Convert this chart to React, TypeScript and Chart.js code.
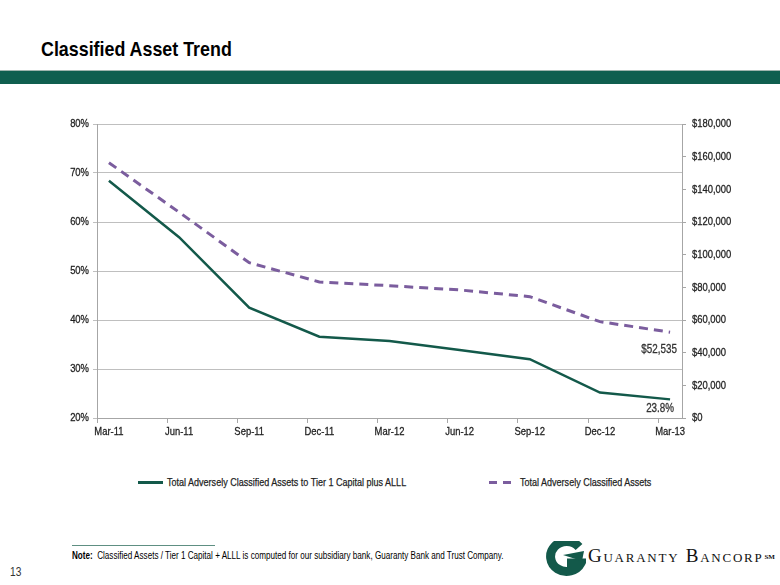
import React, { useEffect, useRef } from "react";
import { Chart, registerables } from "chart.js";

Chart.register(...registerables);

const quarters = ["Mar-11", "Jun-11", "Sep-11", "Dec-11", "Mar-12", "Jun-12", "Sep-12", "Dec-12", "Mar-13"];
const ratioPct = [68.4, 56.9, 42.5, 36.6, 35.7, 33.9, 32.0, 25.2, 23.8];
const classifiedAssets = [156300, 126000, 95100, 83300, 81000, 78400, 74300, 59000, 52535];
const leftTicks = [20, 30, 40, 50, 60, 70, 80];
const rightTicks = [0, 20000, 40000, 60000, 80000, 100000, 120000, 140000, 160000, 180000];

const SANS = '"Liberation Sans", Arial, sans-serif';
const GREEN = "#13594A";
const PURPLE = "#7B5D9E";
const TEXT = "#1F1F1F";
const SQUEEZE = 0.82;

const fmtPct = (v: number) => v + "%";
const fmtUsd = (v: number) => "$" + Number(v).toLocaleString("en-US");

function narrowText(ctx: CanvasRenderingContext2D, s: string, x: number, y: number) {
  ctx.save();
  ctx.translate(x, y);
  ctx.scale(SQUEEZE, 1);
  ctx.fillText(s, 0, 0);
  ctx.lineWidth = 0.3;
  ctx.strokeText(s, 0, 0);
  ctx.restore();
}

const narrowLabels = {
  id: "narrowLabels",
  afterDraw(chart: any) {
    const ctx: CanvasRenderingContext2D = chart.ctx;
    const area = chart.chartArea;
    const sx = chart.scales.x;
    const yl = chart.scales.yL;
    const yr = chart.scales.yR;
    ctx.save();
    ctx.font = `11.5px ${SANS}`;
    ctx.fillStyle = TEXT;
    ctx.strokeStyle = TEXT;
    ctx.textBaseline = "middle";
    ctx.textAlign = "center";
    quarters.forEach((q, i) => narrowText(ctx, q, sx.getPixelForValue(i), area.bottom + 14));
    ctx.textAlign = "right";
    leftTicks.forEach((v) => narrowText(ctx, fmtPct(v), area.left - 8, yl.getPixelForValue(v)));
    ctx.textAlign = "left";
    rightTicks.forEach((v) => narrowText(ctx, fmtUsd(v), area.right + 10, yr.getPixelForValue(v)));
    // end-point value labels
    const last = quarters.length - 1;
    const g = chart.getDatasetMeta(0).data[last];
    const p = chart.getDatasetMeta(1).data[last];
    ctx.font = `12px ${SANS}`;
    ctx.fillStyle = "#333333";
    ctx.strokeStyle = "#333333";
    ctx.textAlign = "center";
    narrowText(ctx, ratioPct[last].toFixed(1) + "%", g.x - 10, g.y + 9);
    narrowText(ctx, fmtUsd(classifiedAssets[last]), p.x - 11, p.y + 17);
    ctx.restore();
  },
};

const squeezeStyle = (s: number): React.CSSProperties => ({
  transform: `scaleX(${s})`,
  transformOrigin: "0 50%",
  whiteSpace: "nowrap",
});

export default function App() {
  const ref = useRef<HTMLCanvasElement | null>(null);

  useEffect(() => {
    if (!ref.current) return;
    const chart = new Chart(ref.current, {
      type: "line",
      data: {
        datasets: [
          {
            label: "Total Adversely Classified Assets to Tier 1 Capital plus ALLL",
            data: ratioPct.map((v, i) => ({ x: i, y: v })),
            borderColor: GREEN,
            borderWidth: 2.5,
            pointRadius: 0,
            tension: 0,
            yAxisID: "yL",
          },
          {
            label: "Total Adversely Classified Assets",
            data: classifiedAssets.map((v, i) => ({ x: i, y: v })),
            borderColor: PURPLE,
            borderWidth: 3,
            borderDash: [9, 6],
            pointRadius: 0,
            tension: 0,
            yAxisID: "yR",
          },
        ],
      },
      options: {
        animation: false,
        responsive: false,
        layout: { padding: { top: 24, left: 0, right: 0, bottom: 0 } },
        plugins: { legend: { display: false }, tooltip: { enabled: false } },
        scales: {
          x: {
            type: "linear",
            min: -0.17,
            max: 8.17,
            afterBuildTicks: (scale: any) => {
              scale.ticks = quarters.map((_, i) => ({ value: i - 0.17 }));
            },
            afterFit: (scale: any) => {
              scale.height = 22;
            },
            grid: { drawOnChartArea: false, tickLength: 5, color: "#A6A6A6" },
            border: { color: "#A6A6A6" },
            ticks: { display: false },
          },
          yL: {
            type: "linear",
            position: "left",
            min: 20,
            max: 80,
            afterBuildTicks: (scale: any) => {
              scale.ticks = leftTicks.map((v) => ({ value: v }));
            },
            afterFit: (scale: any) => {
              scale.width = 97;
            },
            grid: { color: "#BFBFBF", tickLength: 4 },
            border: { color: "#A6A6A6" },
            ticks: { display: false },
          },
          yR: {
            type: "linear",
            position: "right",
            min: 0,
            max: 180000,
            afterBuildTicks: (scale: any) => {
              scale.ticks = rightTicks.map((v) => ({ value: v }));
            },
            afterFit: (scale: any) => {
              scale.width = 98;
            },
            grid: { drawOnChartArea: false, tickLength: 4, color: "#A6A6A6" },
            border: { color: "#A6A6A6" },
            ticks: { display: false },
          },
        },
      },
      plugins: [narrowLabels],
    } as any);
    return () => chart.destroy();
  }, []);

  const legendText: React.CSSProperties = {
    fontFamily: SANS,
    fontSize: 11,
    color: TEXT,
    lineHeight: "15px",
    WebkitTextStroke: "0.25px " + TEXT,
    ...squeezeStyle(SQUEEZE),
  };

  return (
    <div style={{ position: "fixed", left: 0, top: 0, width: 780, height: 585, background: "#fff", overflow: "hidden" }}>
      <div style={{ position: "absolute", left: 41, top: 36, fontFamily: SANS, fontWeight: "bold", fontSize: 21, color: "#000", lineHeight: "26px", ...squeezeStyle(0.85) }}>
        Classified Asset Trend
      </div>
      <div style={{ position: "absolute", left: 0, top: 70, width: 780, height: 1, background: "#9FB5AE" }} />
      <div style={{ position: "absolute", left: 0, top: 71, width: 780, height: 13, background: "#0F5F4F" }} />
      <canvas ref={ref} width={780} height={340} style={{ position: "absolute", left: 0, top: 100, display: "block" }} />
      {/* legend */}
      <div style={{ position: "absolute", left: 138, top: 481, width: 25, height: 3, background: GREEN }} />
      <div style={{ position: "absolute", left: 167, top: 475, ...legendText }}>
        Total Adversely Classified Assets to Tier 1 Capital plus ALLL
      </div>
      <div style={{ position: "absolute", left: 489, top: 481, width: 8, height: 3, background: PURPLE }} />
      <div style={{ position: "absolute", left: 503, top: 481, width: 8, height: 3, background: PURPLE }} />
      <div style={{ position: "absolute", left: 520, top: 475, ...legendText }}>
        Total Adversely Classified Assets
      </div>
      {/* footnote */}
      <div style={{ position: "absolute", left: 72, top: 545, width: 143, height: 1, background: "#5E8F82" }} />
      <div style={{ position: "absolute", left: 72, top: 550, fontFamily: SANS, fontSize: 10, color: "#000", lineHeight: "12px", ...squeezeStyle(0.81) }}>
        <b>Note:</b>&nbsp; Classified Assets / Tier 1 Capital + ALLL is computed for our subsidiary bank, Guaranty Bank and Trust Company.
      </div>
      <div style={{ position: "absolute", left: 10, top: 565, fontFamily: SANS, fontSize: 12, color: "#333", lineHeight: "14px", ...squeezeStyle(0.85) }}>13</div>
      {/* logo */}
      <svg style={{ position: "absolute", left: 544, top: 541 }} width={42} height={37} viewBox="0 0 42 37">
        <path d="M35 6 A16 15 0 1 0 37 22 L23 22" fill="none" stroke={GREEN} strokeWidth={9} strokeLinejoin="miter" />
        <path d="M19 14 L40 10 L38 20 Z" fill={GREEN} />
      </svg>
      <div style={{ position: "absolute", left: 588, top: 546, fontFamily: '"Liberation Serif", "DejaVu Serif", serif', fontSize: 19, fontVariant: "small-caps", color: "#111", lineHeight: "20px", whiteSpace: "nowrap", letterSpacing: 1.75 }}>
        Guaranty Bancorp<sup style={{ fontSize: 7, fontWeight: "bold", verticalAlign: "top", position: "relative", top: 1, marginLeft: 1, fontVariant: "normal", letterSpacing: 0 }}>SM</sup>
      </div>
    </div>
  );
}
